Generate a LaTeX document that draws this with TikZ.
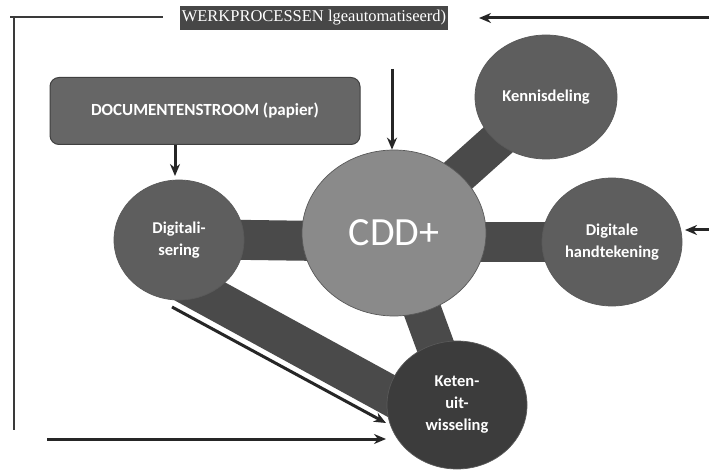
\documentclass[tikz,border=0pt]{standalone}
\usepackage{fontspec}
\setmainfont{Carlito}
\newfontfamily\titlefont{Liberation Serif}
\usetikzlibrary{shapes.geometric,arrows.meta,backgrounds}
\definecolor{circgray}{HTML}{5E5E5E}
\definecolor{ketgray}{HTML}{3C3C3C}
\definecolor{cddgray}{HTML}{8A8A8A}
\definecolor{bargray}{HTML}{4A4A4A}
\definecolor{boxgray}{HTML}{666666}
\definecolor{titlegray}{HTML}{474747}
\definecolor{linegray}{HTML}{3A3A3A}
\begin{document}
\begin{tikzpicture}[x=1pt,y=-1pt,
  bubble/.style={ellipse, fill=circgray, draw=black!65, line width=0.7pt, inner sep=0pt,
    text=white, font=\bfseries\fontsize{16.5}{22}\selectfont, align=center},
  bar/.style={line width=40pt, draw=bargray},
  arr/.style={line width=3pt, draw=black!85, -{Stealth[length=12pt,width=10pt]}},
  framel/.style={line width=2.6pt, draw=linegray}]
\useasboundingbox (0,0) rectangle (709,470);

% title
\node[fill=titlegray, text=white, inner sep=0pt, minimum width=268pt, minimum height=24pt,
  font=\titlefont\fontsize{16.5}{18}\selectfont] (title) at (314,18) {WERKPROCESSEN lgeautomatiseerd)};

% document box
\node[rounded corners=9pt, fill=boxgray, draw=black!75, line width=1pt, minimum width=310pt,
  minimum height=67pt, text=white, font=\bfseries\fontsize{17}{20}\selectfont] (doc) at (205,111)
  {DOCUMENTENSTROOM (papier)};

% bubbles
\node[bubble, minimum width=130pt, minimum height=120pt] (dig) at (179,240) {Digitali-\\sering};
\node[bubble, fill=cddgray, minimum width=184pt, minimum height=166pt,
  font=\fontsize{40}{44}\selectfont] (cdd) at (394,233) {CDD+};
\node[bubble, minimum width=142pt, minimum height=124pt] (ken) at (546,97) {Kennisdeling};
\node[bubble, minimum width=140pt, minimum height=128pt] (dh) at (612,242) {Digitale\\handtekening};
\node[bubble, fill=ketgray, minimum width=140pt, minimum height=128pt] (ket) at (457,405) {Keten-\\uit-\\wisseling};

% background and bars behind bubbles
\begin{scope}[on background layer]
  \fill[white] (0,0) rectangle (709,470);
  \draw[bar] ([yshift=1pt]dig.center) -- ([yshift=-9pt]cdd.center);
  \draw[bar] ([yshift=-9pt]cdd.center) -- (dh.center);
  \draw[bar, line width=38pt] (cdd.center) -- (ken.center);
  \draw[bar, line width=38pt] (cdd.center) -- (ket.center);
  \draw[bar] ([xshift=-19pt,yshift=-29.6pt]dig.center) -- ([yshift=-27pt]ket.center);
\end{scope}

% frame lines
\coordinate (fl) at (10,17);
\coordinate (fr) at (163,17);
\coordinate (vt) at (14,17);
\coordinate (vb) at (14,430);
\draw[framel] (fl) -- (fr);
\draw[framel] (vt) -- (vb);

% arrows
\coordinate (ta) at (709,18);
\coordinate (tb) at (479,18);
\draw[arr] (ta) -- (tb);
\coordinate (ra) at (709,230);
\coordinate (rb) at (685,230);
\draw[arr] (ra) -- (rb);
\coordinate (ca) at (392,69);
\draw[arr] (ca) -- (cdd.north -| ca);
\draw[arr] (doc.south -| 175,0) -- (175,176);
\coordinate (da) at (172,307);
\coordinate (db) at (386,423);
\draw[arr] (da) -- (db);
\coordinate (ba) at (47,439);
\coordinate (bb) at (386,439);
\draw[arr] (ba) -- (bb);
\end{tikzpicture}
\end{document}
